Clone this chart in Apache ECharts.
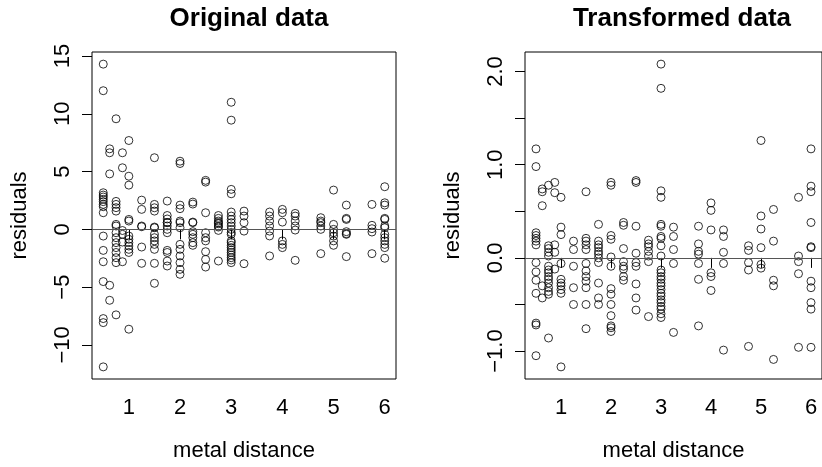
<!DOCTYPE html>
<html>
<head>
<meta charset="utf-8">
<script src="https://cdn.jsdelivr.net/npm/echarts@6/dist/echarts.min.js"></script>
<style>
html,body{margin:0;padding:0;background:#fff;}
#chart{width:822px;height:467px;}
</style>
</head>
<body>
<div id="chart"></div>
<script>
// ---------- data ----------
const panelTitles = ["Original data", "Transformed data"];
const xLabel = "metal distance";
const yLabel = "residuals";
const xTicks = [1, 2, 3, 4, 5, 6];
const yTicksOrig = [-10, -5, 0, 5, 10, 15];
const yTicksTrans = [-1.0, -0.5, 0.0, 0.5, 1.0, 1.5, 2.0];
const yLabelsTrans = [-1.0, 0.0, 1.0, 2.0];

// Original data: distance columns and residuals
const origDist = [0.5, 0.625, 0.75, 0.875, 1.0, 1.25, 1.5, 1.75, 2.0, 2.25, 2.5, 2.75, 3.0, 3.25, 3.75, 4.0, 4.25, 4.75, 5.0, 5.25, 5.75, 6.0];
const origResid = [
  [14.3, 12.0, 3.17, 2.97, 2.8, 2.6, 2.4, 2.16, 1.96, 1.44, -0.58, -1.82, -2.8, -4.52, -7.72, -8.07, -11.9],
  [6.97, 6.63, 4.8, -4.84, -6.14],
  [9.57, 2.42, 2.16, 1.88, 1.58, 0.43, 0.29, -0.29, -0.72, -1.15, -1.58, -2.0, -2.45, -2.88, -7.4],
  [6.63, 5.33, -0.1, -0.43, -1.1, -2.8],
  [7.69, 4.6, 3.83, 0.86, 0.72, -0.58, -0.86, -1.15, -1.44, -1.73, -2.0, -8.64],
  [2.53, 1.73, 0.29, 0.23, -1.53, -2.94],
  [6.2, 2.16, 1.87, 1.58, 0.2, 0.14, -0.43, -0.72, -1.0, -1.3, -1.73, -2.94, -4.67],
  [2.45, 1.2, 0.9, 0.6, 0.58, 0.29, 0.0, -0.29, -1.82, -2.0, -2.74, -3.17],
  [5.9, 5.7, 2.1, 1.79, 0.72, 0.58, 0.14, -1.3, -1.73, -2.3, -2.88, -3.46, -3.89],
  [2.36, 2.19, 0.63, 0.58, -0.2, -0.43, -0.72, -1.15, -1.38],
  [4.24, 4.09, 1.44, -0.29, -0.72, -1.0, -1.93, -2.6, -3.26],
  [1.2, 0.95, 0.72, 0.49, 0.2, -0.09, 0.58, 0.29, -2.74],
  [11.0, 9.45, 3.46, 3.08, 1.5, 1.15, 0.86, 0.58, 0.29, 0.0, -0.27, -0.43, -1.0, -1.15, -1.38, -1.58, -1.79, -2.0, -2.22, -2.45, -2.65, -2.88],
  [1.58, 1.15, 0.58, -0.15, -2.97],
  [1.5, 1.15, 0.72, 0.29, -0.15, -0.57, -2.3],
  [1.73, 1.44, 0.63, -1.0, -1.3, -1.58],
  [1.38, 1.15, 0.72, 0.29, -0.06, -2.68],
  [1.01, 0.72, 0.58, 0.29, 0.0, -2.1],
  [3.4, 0.43, 0.0, -0.29, -0.58, -1.0, -1.38],
  [2.1, 0.95, 0.86, -0.2, -0.37, -0.43, -2.36],
  [2.16, 0.35, 0.06, -0.23, -2.1],
  [3.69, 2.3, 2.1, 0.95, 0.86, 0.29, 0.14, -0.43, -0.72, -1.0, -1.3, -1.58, -2.5]
];

// Transformed data
const transDist = [0.5, 0.625, 0.75, 0.875, 1.0, 1.25, 1.5, 1.75, 2.0, 2.25, 2.5, 2.75, 3.0, 3.25, 3.75, 4.0, 4.25, 4.75, 5.0, 5.25, 5.75, 6.0];
const transResid = [
  [1.17, 0.98, 0.27, 0.24, 0.21, 0.18, 0.14, -0.05, -0.15, -0.24, -0.38, -0.70, -0.72, -1.05],
  [0.74, 0.71, 0.56, -0.30, -0.43],
  [0.78, 0.13, 0.10, 0.06, 0.02, -0.09, -0.13, -0.16, -0.20, -0.23, -0.27, -0.32, -0.36, -0.39, -0.86],
  [0.81, 0.70, 0.14, 0.06, -0.12],
  [0.65, 0.33, 0.25, -0.06, -0.23, -0.27, -0.30, -0.34, -0.38, -1.17],
  [0.18, 0.09, -0.09, -0.32, -0.50],
  [0.71, 0.21, 0.18, 0.14, 0.09, -0.06, -0.14, -0.20, -0.25, -0.32, -0.50, -0.76],
  [0.36, 0.18, 0.14, 0.11, 0.07, 0.04, 0.0, -0.05, -0.27, -0.43, -0.50],
  [0.81, 0.78, 0.24, 0.20, 0.01, -0.09, -0.33, -0.39, -0.50, -0.62, -0.73, -0.75, -0.79],
  [0.38, 0.35, 0.10, -0.04, -0.09, -0.12, -0.20, -0.24],
  [0.83, 0.81, 0.34, 0.05, -0.05, -0.09, -0.28, -0.43, -0.56],
  [0.19, 0.15, 0.12, 0.07, 0.02, -0.04, -0.63],
  [2.08, 1.82, 0.72, 0.65, 0.36, 0.34, 0.23, 0.21, 0.13, 0.02, -0.13, -0.16, -0.20, -0.23, -0.27, -0.30, -0.34, -0.38, -0.41, -0.45, -0.48, -0.52, -0.55, -0.60, -0.64],
  [0.33, 0.23, 0.09, -0.06, -0.80],
  [0.34, 0.15, 0.07, 0.04, -0.06, -0.23, -0.73],
  [0.59, 0.51, 0.30, -0.16, -0.20, -0.35],
  [0.30, 0.23, 0.06, -0.06, -0.99],
  [0.13, 0.08, -0.05, -0.13, -0.95],
  [1.26, 0.45, 0.31, 0.11, -0.07, -0.11],
  [0.52, 0.18, -0.24, -0.30, -1.09],
  [0.65, 0.02, -0.04, -0.17, -0.96],
  [1.17, 0.77, 0.71, 0.38, 0.12, 0.11, -0.25, -0.32, -0.48, -0.55, -0.96]
];

// ---------- build ----------
function toPoints(dist, resid) {
  const pts = [];
  dist.forEach((d, i) => resid[i].forEach(r => pts.push([d, r])));
  return pts;
}
const FONT = "'Liberation Sans', Arial, Helvetica, sans-serif";
const AX = 22;

function xAxisCfg(gi) {
  return {
    gridIndex: gi, type: 'value', min: 0.28, max: 6.22,
    name: xLabel, nameLocation: 'middle', nameGap: 61,
    nameTextStyle: { fontSize: AX, fontFamily: FONT, color: '#000' },
    axisLine: { show: false },
    splitLine: { show: false },
    axisTick: { show: true, inside: false, length: 10, customValues: xTicks, lineStyle: { color: '#000', width: 1 } },
    axisLabel: { customValues: xTicks, margin: 18, fontSize: AX, fontFamily: FONT, color: '#000' }
  };
}
function yAxisCfg(gi, min, max, ticks, labels, fmt) {
  return {
    gridIndex: gi, type: 'value', min: min, max: max,
    name: yLabel, nameLocation: 'middle', nameGap: 61, nameRotate: 90,
    nameTextStyle: { fontSize: AX, fontFamily: FONT, color: '#000' },
    axisLine: { show: false },
    splitLine: { show: false },
    axisTick: { show: true, inside: false, length: 10, customValues: ticks, lineStyle: { color: '#000', width: 1 } },
    axisLabel: { customValues: labels, rotate: 90, margin: 18, fontSize: AX, fontFamily: FONT, color: '#000', formatter: fmt }
  };
}
function scatter(gi, data) {
  return {
    type: 'scatter', xAxisIndex: gi, yAxisIndex: gi, data: data,
    symbol: 'circle', symbolSize: 8,
    itemStyle: { color: 'rgba(0,0,0,0)', borderColor: '#000', borderWidth: 1 },
    silent: true,
    markLine: {
      silent: true, symbol: ['none', 'none'], label: { show: false },
      lineStyle: { color: '#555', width: 1, type: 'solid' },
      data: [{ yAxis: 0 }]
    }
  };
}

const chart = echarts.init(document.getElementById('chart'), null, { renderer: 'canvas' });
chart.setOption({
  animation: false,
  backgroundColor: '#fff',
  title: [
    { text: panelTitles[0], left: 244, top: 1, textAlign: 'center', textStyle: { fontSize: 26, fontWeight: 'bold', fontFamily: FONT, color: '#000' } },
    { text: panelTitles[1], left: 677, top: 1, textAlign: 'center', textStyle: { fontSize: 26, fontWeight: 'bold', fontFamily: FONT, color: '#000' } }
  ],
  grid: [
    { left: 92, top: 52, width: 304, height: 328, show: true, borderColor: '#000', borderWidth: 1, backgroundColor: 'transparent' },
    { left: 525, top: 52, width: 304, height: 328, show: true, borderColor: '#000', borderWidth: 1, backgroundColor: 'transparent' }
  ],
  xAxis: [xAxisCfg(0), xAxisCfg(1)],
  yAxis: [
    yAxisCfg(0, -12.95, 15.35, yTicksOrig, yTicksOrig, v => (v < 0 ? '\u2212' + Math.abs(v) : String(v))),
    yAxisCfg(1, -1.30, 2.21, yTicksTrans, yLabelsTrans, v => (v < 0 ? '\u2212' + Math.abs(v).toFixed(1) : v.toFixed(1)))
  ],
  series: [
    scatter(0, toPoints(origDist, origResid)),
    scatter(1, toPoints(transDist, transResid))
  ]
});
</script>
</body>
</html>
